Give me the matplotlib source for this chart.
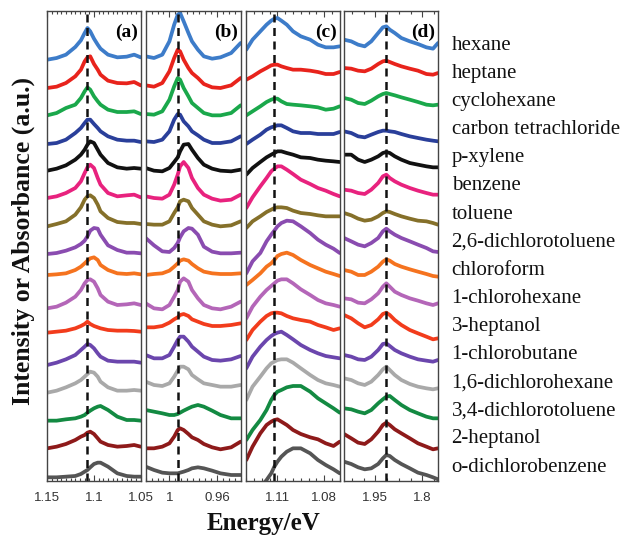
import numpy as np
import matplotlib.pyplot as plt
from matplotlib.ticker import FixedLocator, MultipleLocator

solvents = ["hexane", "heptane", "cyclohexane", "carbon tetrachloride",
            "p-xylene", "benzene", "toluene", "2,6-dichlorotoluene",
            "chloroform", "1-chlorohexane", "3-heptanol", "1-chlorobutane",
            "1,6-dichlorohexane", "3,4-dichlorotoluene", "2-heptanol",
            "o-dichlorobenzene"]
colors = ["#3d7cc9", "#e8231c", "#1aa84b", "#2a3f9a", "#111111", "#e8227e",
          "#85702a", "#8a4cb0", "#f5731f", "#b466b8", "#f23c1c", "#6b46ad",
          "#a9a9a9", "#138a42", "#8e1a1a", "#555555"]

# energy samples (eV) of each panel
energy_a = [1.150, 1.140, 1.130, 1.120, 1.114, 1.110, 1.107, 1.104, 1.100,
            1.096, 1.093, 1.085, 1.075, 1.065, 1.057, 1.050]
energy_b = [1.020, 1.013, 1.006, 1.000, 0.996, 0.993, 0.991, 0.988, 0.984,
            0.981, 0.976, 0.971, 0.964, 0.957, 0.948, 0.940]
energy_c = [1.130, 1.126, 1.121, 1.117, 1.114, 1.112, 1.110, 1.1075, 1.104,
            1.100, 1.095, 1.089, 1.084, 1.079, 1.074, 1.070]
energy_d = [2.050, 2.027, 2.005, 1.984, 1.963, 1.941, 1.926, 1.915, 1.904,
            1.888, 1.867, 1.840, 1.814, 1.787, 1.766, 1.750]

# intensity above each curve's baseline (a.u.), one row per solvent
inten_a = [
    [0, 5, 15, 38, 58, 80, 95, 85, 63, 45, 33, 15, 7, 9, 15, 7],
    [-2, 2, 13, 33, 53, 78, 90, 93, 70, 53, 38, 20, 13, 12, 16, 6],
    [-1, 6, 21, 31, 51, 71, 83, 76, 56, 41, 31, 16, 9, 9, 11, 3],
    [-4, -1, 9, 29, 44, 59, 69, 69, 56, 44, 34, 19, 9, 6, 6, 2],
    [-1, 5, 15, 32, 47, 62, 77, 87, 82, 62, 47, 22, 9, 5, 7, 5],
    [0, 5, 15, 30, 50, 75, 92, 100, 90, 60, 40, 15, 5, 8, 10, 2],
    [-2, 5, 13, 33, 55, 78, 88, 91, 83, 63, 43, 23, 11, 8, 8, 5],
    [-2, 1, 8, 18, 28, 38, 51, 68, 76, 74, 56, 24, 10, 2, 2, 0],
    [18, 20, 23, 33, 43, 53, 61, 68, 71, 63, 48, 33, 23, 21, 23, 20],
    [1, 6, 18, 36, 56, 76, 86, 88, 81, 61, 41, 21, 11, 13, 16, 11],
    [11, 14, 17, 24, 31, 37, 44, 37, 31, 27, 24, 19, 17, 17, 16, 14],
    [-3, 4, 14, 27, 42, 52, 60, 57, 47, 32, 22, 10, 7, 7, 7, 4],
    [-3, 3, 13, 25, 35, 45, 53, 60, 57, 45, 30, 13, 3, 3, 5, 3],
    [-4, -4, 0, 3, 8, 13, 20, 26, 33, 38, 40, 28, 8, -2, -2, -4],
    [-4, 1, 9, 21, 31, 36, 43, 46, 39, 26, 16, 6, 1, 3, 6, 1],
    [-8, -8, -6, -4, 2, 9, 14, 22, 32, 36, 36, 24, 4, -4, -6, -6],
]
inten_b = [
    [10, 5, 15, 55, 105, 135, 140, 115, 80, 55, 30, 10, 3, 7, 20, 50],
    [6, 2, 13, 48, 88, 113, 108, 83, 58, 43, 28, 10, 0, -2, 6, 28],
    [3, 1, 11, 46, 86, 111, 106, 81, 56, 36, 21, 6, -1, -1, 6, 29],
    [4, 2, 9, 34, 69, 86, 84, 64, 49, 34, 22, 9, -1, -1, 4, 19],
    [7, -1, -3, 7, 25, 39, 57, 77, 79, 62, 37, 17, 5, -1, -3, 2],
    [5, 0, -2, 10, 40, 70, 95, 108, 90, 60, 30, 10, -2, -8, -5, 10],
    [5, 3, 3, 13, 38, 55, 73, 78, 73, 53, 33, 13, 3, -2, 1, 13],
    [46, 24, 6, 4, 16, 31, 48, 66, 76, 74, 56, 20, 5, 0, 0, 2],
    [18, 21, 23, 31, 43, 53, 61, 65, 61, 51, 38, 28, 23, 21, 21, 23],
    [16, 1, -2, 11, 36, 56, 81, 91, 81, 56, 31, 11, 1, -2, 6, 21],
    [27, 27, 31, 41, 51, 57, 64, 67, 61, 51, 44, 37, 31, 31, 34, 39],
    [27, 17, 17, 27, 52, 72, 82, 82, 67, 52, 37, 22, 12, 10, 14, 24],
    [30, 20, 17, 25, 45, 63, 75, 75, 67, 50, 37, 25, 20, 15, 15, 20],
    [28, 23, 18, 13, 13, 16, 20, 26, 33, 38, 43, 38, 26, 13, 3, 3],
    [-4, -4, 1, 11, 31, 51, 56, 51, 39, 29, 21, 9, -1, -7, -1, 16],
    [24, 14, 6, 4, 4, 4, 6, 9, 14, 19, 22, 19, 12, 4, -1, -1],
]
inten_c = [
    [30, 60, 85, 105, 117, 123, 125, 117, 105, 85, 70, 60, 45, 37, 37, 40],
    [23, 33, 48, 58, 66, 68, 68, 63, 58, 53, 53, 50, 46, 40, 40, 46],
    [-1, 11, 26, 39, 46, 49, 49, 41, 33, 31, 29, 26, 23, 16, 19, 26],
    [-4, 9, 24, 39, 46, 49, 52, 52, 44, 34, 29, 29, 26, 26, 26, 32],
    [-13, 7, 25, 39, 47, 52, 57, 57, 52, 47, 39, 37, 32, 29, 27, 25],
    [-30, 2, 35, 60, 80, 88, 95, 95, 85, 72, 55, 42, 30, 22, 12, 5],
    [-7, 13, 28, 41, 48, 53, 55, 55, 53, 45, 38, 35, 31, 28, 28, 28],
    [-60, -24, 1, 36, 56, 68, 81, 91, 98, 96, 81, 61, 41, 26, 14, 1],
    [-12, 3, 23, 43, 53, 63, 75, 81, 85, 78, 63, 48, 38, 28, 21, 15],
    [-29, 6, 36, 56, 68, 76, 84, 88, 88, 76, 58, 41, 26, 16, 11, 6],
    [-11, 19, 44, 61, 69, 71, 71, 69, 61, 54, 49, 44, 34, 27, 19, 24],
    [-13, 22, 52, 72, 84, 90, 94, 97, 87, 74, 57, 42, 32, 24, 20, 17],
    [-25, 15, 45, 70, 85, 90, 95, 97, 97, 87, 70, 50, 35, 25, 20, 15],
    [-62, -32, -2, 28, 58, 73, 83, 88, 96, 100, 100, 83, 63, 48, 33, 20],
    [-39, 1, 41, 66, 76, 81, 83, 76, 66, 51, 39, 29, 23, 11, 3, 16],
    [-70, -55, -38, -16, 4, 24, 39, 54, 69, 79, 79, 64, 44, 29, 16, 4],
]
inten_d = [
    [60, 55, 45, 40, 55, 80, 97, 100, 90, 80, 65, 55, 47, 37, 33, 50],
    [58, 56, 50, 48, 56, 70, 78, 80, 76, 70, 63, 56, 50, 40, 38, 43],
    [51, 46, 36, 33, 43, 56, 63, 66, 63, 59, 53, 46, 39, 31, 29, 31],
    [34, 29, 19, 16, 24, 32, 36, 36, 34, 32, 26, 19, 14, 9, 6, 4],
    [47, 47, 32, 25, 32, 42, 52, 55, 52, 42, 32, 22, 17, 12, 9, 9],
    [25, 22, 15, 12, 25, 45, 65, 70, 60, 50, 40, 30, 22, 15, 10, 10],
    [38, 31, 21, 15, 18, 28, 38, 43, 41, 35, 28, 21, 15, 13, 8, 3],
    [46, 36, 26, 21, 31, 46, 66, 74, 66, 56, 46, 36, 26, 16, 6, 4],
    [33, 28, 18, 18, 28, 43, 58, 65, 61, 51, 43, 35, 28, 21, 15, 13],
    [31, 28, 18, 16, 28, 46, 66, 76, 66, 51, 41, 31, 24, 16, 11, 16],
    [64, 54, 39, 27, 34, 51, 67, 71, 64, 49, 34, 19, 9, -1, -9, -6],
    [27, 22, 14, 12, 22, 42, 60, 62, 54, 42, 32, 22, 14, 10, 7, 12],
    [40, 35, 25, 20, 30, 50, 67, 75, 65, 50, 35, 23, 15, 10, 7, 10],
    [33, 30, 23, 18, 28, 48, 60, 68, 70, 58, 43, 28, 18, 8, 3, 3],
    [39, 26, 13, 9, 23, 46, 66, 73, 66, 53, 41, 26, 11, 1, -7, -4],
    [39, 32, 22, 16, 19, 32, 49, 59, 56, 44, 32, 19, 6, -1, -8, -14],
]

dash_pos = [1.107, 0.993, 1.112, 1.917]
tick_pos = [[1.15, 1.1, 1.05], [1.0, 0.96], [1.11, 1.08], [1.95, 1.8]]
tick_txt = [["1.15", "1.1", "1.05"], ["1", "0.96"], ["1.11", "1.08"], ["1.95", "1.8"]]
minor_step = [0.005, 0.005, 0.005, 0.0375]
xlims = [(1.15, 1.05), (1.02, 0.94), (1.13, 1.07), (2.05, 1.75)]
letters = ["(a)", "(b)", "(c)", "(d)"]

step = 83
fig = plt.figure(figsize=(6.22, 5.37), dpi=100)
lefts = [0.0760, 0.2342, 0.3960, 0.5531]
widths = [0.1502, 0.1527, 0.1502, 0.1511]
energies = [energy_a, energy_b, energy_c, energy_d]
intens = [inten_a, inten_b, inten_c, inten_d]

for k in range(4):
    ax = fig.add_axes([lefts[k], 0.1043, widths[k], 0.8752])
    for i, row in enumerate(intens[k]):
        ax.plot(energies[k], np.array(row) + (15 - i) * step, color=colors[i],
                lw=2.7, solid_capstyle="round", solid_joinstyle="round")
    ax.axvline(dash_pos[k], color="#111111", ls=(0, (3.2, 2.2)), lw=1.8)
    ax.set_xlim(xlims[k])
    ax.set_ylim(-19, 1391)
    ax.set_yticks([])
    ax.xaxis.set_major_locator(FixedLocator(tick_pos[k]))
    ax.set_xticklabels(tick_txt[k], fontfamily="Liberation Sans",
                       fontsize=9.5, color="#333333")
    ax.xaxis.set_minor_locator(MultipleLocator(minor_step[k]))
    ax.tick_params(axis="x", which="both", direction="in", top=True,
                   color="#444444", width=0.8)
    ax.tick_params(axis="x", which="major", length=4.5, pad=8)
    ax.tick_params(axis="x", which="minor", length=2.5)
    for sp in ax.spines.values():
        sp.set_color("#444444")
        sp.set_linewidth(1.0)
    ax.text(0.97, 0.955, letters[k], transform=ax.transAxes, ha="right",
            va="center", fontfamily="Liberation Serif", fontweight="bold",
            fontsize=14)

for i, name in enumerate(solvents):
    fig.text(0.726, 1 - (50 + 28.1 * i) / 537, name, va="baseline",
             fontfamily="Liberation Serif", fontsize=15, color="#111111")

fig.text(0.037, 0.551, "Intensity or Absorbance (a.u.)", rotation=90,
         ha="center", va="center", fontfamily="Liberation Serif",
         fontweight="bold", fontsize=18.5, color="#111111")
fig.text(0.4236, 0.013, "Energy/eV", ha="center", va="baseline",
         fontfamily="Liberation Serif", fontweight="bold", fontsize=18,
         color="#111111")

fig.savefig("out.png", dpi=100)
